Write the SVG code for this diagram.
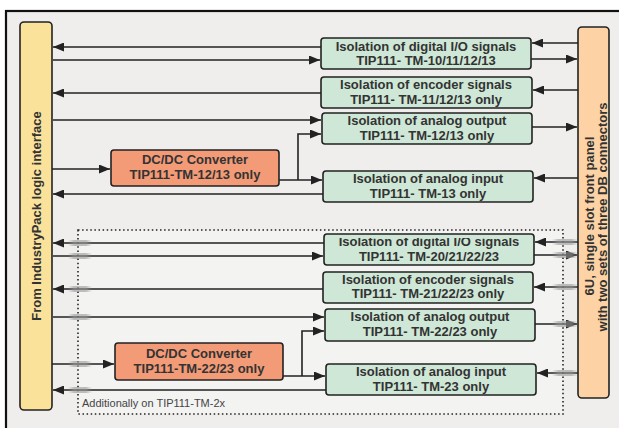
<svg xmlns="http://www.w3.org/2000/svg" width="619" height="428" viewBox="0 0 619 428">
<defs>
<marker id="ah" markerUnits="userSpaceOnUse" markerWidth="11" markerHeight="9" refX="11" refY="4.5" orient="auto">
<path d="M0,0 L11,4.5 L0,9 z" fill="#222"/>
</marker>
<linearGradient id="band" x1="0" x2="1" y1="0" y2="0">
<stop offset="0" stop-color="#999" stop-opacity="0"/>
<stop offset="0.25" stop-color="#999" stop-opacity="0.6"/>
<stop offset="0.75" stop-color="#999" stop-opacity="0.6"/>
<stop offset="1" stop-color="#999" stop-opacity="0"/>
</linearGradient>
<clipPath id="clipTop"><rect x="320" y="238" width="220" height="40"/></clipPath>
</defs>
<style>
.ln{fill:none;stroke:#222;stroke-width:1.6}
.ar{marker-end:url(#ah)}
.iso{fill:#cfe7d6;stroke:#222;stroke-width:1.6}
.dc{fill:#f39b77;stroke:#222;stroke-width:1.6}
.t{font-family:"Liberation Sans",Arial,sans-serif;font-weight:bold;font-size:13px;fill:#333;text-anchor:middle}
.band{fill:url(#band)}
</style>
<rect x="0" y="0" width="619" height="428" fill="#ffffff"/>
<rect x="6" y="11" width="640" height="440" fill="#efeeed" stroke="#111" stroke-width="2.2"/>
<rect x="78" y="230" width="485" height="184" fill="#f3f3f2" stroke="#222" stroke-width="1.6" stroke-dasharray="1.5 2.6"/>
<text x="82" y="407" font-family="Liberation Sans,Arial,sans-serif" font-size="11" fill="#444">Additionally on TIP111-TM-2x</text>

<g id="connectors">
<path class="ln ar" d="M321,47 H53"/>
<path class="ln ar" d="M53,60 H320"/>
<path class="ln ar" d="M321,93 H53"/>
<path class="ln ar" d="M53,120 H321"/>
<path class="ln ar" d="M52,169 H110"/>
<path class="ln ar" d="M279,180 H322"/>
<path class="ln ar" d="M298,180 V134 H321"/>
<path class="ln ar" d="M323,194 H53"/>
<path class="ln ar" d="M578,43 H532"/>
<path class="ln ar" d="M531,59 H577"/>
<path class="ln ar" d="M578,90 H533"/>
<path class="ln ar" d="M532,127 H577"/>
<path class="ln ar" d="M578,178 H534"/>

<path class="ln ar" d="M324,243 H53"/>
<path class="ln ar" d="M53,256 H323"/>
<path class="ln ar" d="M323,289 H53"/>
<path class="ln ar" d="M53,317 H324"/>
<path class="ln ar" d="M52,364 H114"/>
<path class="ln ar" d="M283,376 H325"/>
<path class="ln ar" d="M302,376 V331 H324"/>
<path class="ln ar" d="M326,390 H53"/>
<path class="ln ar" d="M578,242 H535"/>
<path class="ln ar" d="M534,255 H577"/>
<path class="ln ar" d="M578,287 H534"/>
<path class="ln ar" d="M535,324 H577"/>
<path class="ln ar" d="M578,373 H537"/>

<rect class="band" x="68" y="240" width="24" height="6"/>
<rect class="band" x="68" y="253" width="24" height="6"/>
<rect class="band" x="68" y="286" width="24" height="6"/>
<rect class="band" x="68" y="314" width="24" height="6"/>
<rect class="band" x="68" y="361" width="24" height="6"/>
<rect class="band" x="68" y="387" width="24" height="6"/>
<rect class="band" x="552" y="239" width="26" height="6"/>
<rect class="band" x="552" y="252" width="26" height="6"/>
<rect class="band" x="552" y="284" width="26" height="6"/>
<rect class="band" x="552" y="321" width="26" height="6"/>
<rect class="band" x="552" y="370" width="26" height="6"/>
</g>

<g id="left-bar">
<rect x="20" y="22" width="32" height="388" rx="4" fill="#fae29b" stroke="#222" stroke-width="1.6"/>
<text class="t" transform="translate(41,216) rotate(-90)">From IndustryPack logic interface</text>
</g>

<g id="right-bar">
<rect x="578" y="27" width="31" height="371" rx="4" fill="#fdd3a5" stroke="#222" stroke-width="1.6"/>
<text class="t" transform="translate(594,216) rotate(-90)">6U, single slot front panel</text>
<text class="t" transform="translate(607,217) rotate(-90)">with two sets of three DB connectors</text>
</g>

<g id="iso-dio-1">
<rect class="iso" x="321" y="38" width="210" height="31" rx="3"/>
<text class="t" x="426" y="51">Isolation of digital I/O signals</text>
<text class="t" x="426" y="65">TIP111- TM-10/11/12/13</text>
</g>
<g id="iso-enc-1">
<rect class="iso" x="321" y="77" width="211" height="31" rx="3"/>
<text class="t" x="426" y="89">Isolation of encoder signals</text>
<text class="t" x="426" y="104">TIP111- TM-11/12/13 only</text>
</g>
<g id="iso-ao-1">
<rect class="iso" x="322" y="113" width="210" height="31" rx="3"/>
<text class="t" x="427" y="125">Isolation of analog output</text>
<text class="t" x="427" y="140">TIP111- TM-12/13 only</text>
</g>
<g id="iso-ai-1">
<rect class="iso" x="323" y="171" width="210" height="31" rx="3"/>
<text class="t" x="428" y="183">Isolation of analog input</text>
<text class="t" x="428" y="198">TIP111- TM-13 only</text>
</g>
<g id="dcdc-1">
<rect class="dc" x="111" y="150" width="168" height="36" rx="3"/>
<text class="t" x="195" y="164">DC/DC Converter</text>
<text class="t" x="195" y="179">TIP111-TM-12/13 only</text>
</g>

<g id="iso-dio-2">
<rect class="iso" x="324" y="234" width="210" height="31" rx="3"/>
<text class="t" x="429" y="246" clip-path="url(#clipTop)">Isolation of digital I/O signals</text>
<text class="t" x="429" y="261">TIP111- TM-20/21/22/23</text>
</g>
<g id="iso-enc-2">
<rect class="iso" x="323" y="272" width="210" height="31" rx="3"/>
<text class="t" x="428" y="284">Isolation of encoder signals</text>
<text class="t" x="428" y="298">TIP111- TM-21/22/23 only</text>
</g>
<g id="iso-ao-2">
<rect class="iso" x="325" y="309" width="210" height="32" rx="3"/>
<text class="t" x="430" y="321">Isolation of analog output</text>
<text class="t" x="430" y="336">TIP111- TM-22/23 only</text>
</g>
<g id="iso-ai-2">
<rect class="iso" x="326" y="364" width="210" height="31" rx="3"/>
<text class="t" x="431" y="376">Isolation of analog input</text>
<text class="t" x="431" y="391">TIP111- TM-23 only</text>
</g>
<g id="dcdc-2">
<rect class="dc" x="115" y="343" width="168" height="37" rx="3"/>
<text class="t" x="199" y="358">DC/DC Converter</text>
<text class="t" x="199" y="373">TIP111-TM-22/23 only</text>
</g>
</svg>
